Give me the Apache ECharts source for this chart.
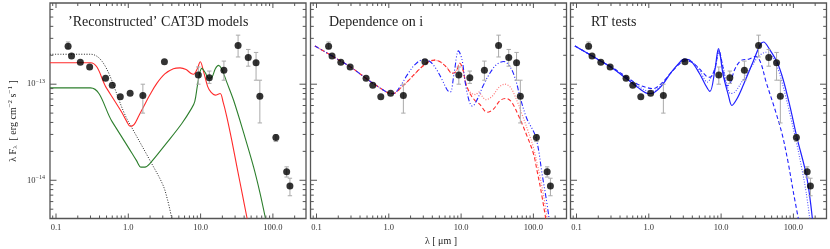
<!DOCTYPE html>
<html><head><meta charset="utf-8">
<script src="https://cdn.jsdelivr.net/npm/echarts@6/dist/echarts.min.js"></script>
<style>html,body{margin:0;padding:0;background:#fff}#c{width:830px;height:249px}</style>
</head><body><div id="c"></div>
<script>
// ---------- data ----------
const wavelength = [0.147,0.164,0.217,0.292,0.485,0.6,0.775,1.06,1.59,3.16,9.3,13.2,21,33,45.6,58.5,66,110,155,172];
const flux = [2.49e-13,1.97e-13,1.69e-13,1.51e-13,1.15e-13,9.76e-14,7.38e-14,8.06e-14,7.63e-14,1.71e-13,1.25e-13,1.17e-13,1.40e-13,2.53e-13,1.90e-13,1.67e-13,7.5e-14,2.78e-14,1.23e-14,8.73e-15];
const fluxLo = [2.33e-13,null,null,null,null,null,null,null,5.0e-14,null,1.0e-13,1.02e-13,1.10e-13,1.92e-13,1.54e-13,1.10e-13,3.95e-14,2.53e-14,1.08e-14,6.9e-15];
const fluxHi = [2.75e-13,null,null,null,null,null,null,null,1.0e-13,null,1.51e-13,1.37e-13,1.74e-13,3.24e-13,2.30e-13,2.14e-13,1.10e-13,2.99e-14,1.38e-14,1.05e-14];

// panel 1 models
const p1Dotted = [[0.0826,2.05e-13],[0.3,2.05e-13],[1.0,4.1e-14],[2.0,1.6e-14],[3.0,9.0e-15],[3.5,6.2e-15],[4.0,4.0e-15]];
const p1Red = [[0.0826,1.67e-13],[0.3,1.67e-13],[0.5,9.1e-14],[0.8,5.2e-14],[0.95,4.1e-14],[1.06,3.65e-14],[1.2,3.8e-14],[1.4,4.7e-14],[1.62,5.8e-14],[2.0,7.8e-14],[2.48,1.02e-13],[3.2,1.28e-13],[4.2,1.45e-13],[5.2,1.48e-13],[6.3,1.42e-13],[7.3,1.3e-13],[8.0,1.27e-13],[9.0,1.45e-13],[9.9,1.71e-13],[11,1.35e-13],[12.5,9.5e-14],[14,8.2e-14],[15.9,7.7e-14],[18.6,8.0e-14],[20.5,6.5e-14],[23,4.6e-14],[27,2.6e-14],[31.8,1.38e-14],[38,7.0e-15],[44,4.0e-15]];
const p1Green = [[0.0826,9.15e-14],[0.3,9.15e-14],[0.6,4.05e-14],[1.0,2.2e-14],[1.3,1.6e-14],[1.5,1.37e-14],[1.7,1.37e-14],[2.0,1.5e-14],[3.4,2.45e-14],[5.5,3.9e-14],[7.5,5.6e-14],[8.3,6.6e-14],[9.0,9.5e-14],[9.7,1.3e-13],[10.4,1.46e-13],[11.5,1.33e-13],[13,1.15e-13],[14.5,1.2e-13],[16,1.45e-13],[17.7,1.57e-13],[19.5,1.45e-13],[23,1.05e-13],[28.6,6.8e-14],[40,3.0e-14],[54,1.38e-14],[66,7.5e-15],[79,4.0e-15]];

// panel 2 models
const p2Blue = [[0.095,2.5e-13],[0.15,2.05e-13],[0.2,1.8e-13],[0.3,1.5e-13],[0.5,1.13e-13],[0.7,9.5e-14],[1.0,8.1e-14],[1.15,8.0e-14],[1.4,9.2e-14],[1.8,1.25e-13],[2.3,1.6e-13],[3.0,1.8e-13],[3.7,1.72e-13],[4.5,1.45e-13],[5.5,1.1e-13],[6.5,8.6e-14],[7.1,8.3e-14],[8.0,1.3e-13],[9.2,2.22e-13],[10.3,1.8e-13],[11.5,1.0e-13],[13.0,6.6e-14],[14.3,5.9e-14],[16.5,6.8e-14],[20,9.5e-14],[25,1.3e-13],[31,1.6e-13],[39,1.72e-13],[48,1.5e-13],[57,1.1e-13],[65,7.5e-14],[80,4.5e-14],[108,2.8e-14],[134,1.08e-14],[150,6.5e-15],[165,4.0e-15]];
const p2RedDotted = [[0.095,2.5e-13],[0.15,2.05e-13],[0.2,1.8e-13],[0.3,1.5e-13],[0.5,1.13e-13],[0.7,9.5e-14],[1.0,8.1e-14],[1.15,8.0e-14],[1.5,9.3e-14],[2.0,1.15e-13],[2.7,1.45e-13],[3.5,1.7e-13],[4.3,1.78e-13],[5.2,1.7e-13],[6.3,1.5e-13],[7.5,1.3e-13],[8.5,1.35e-13],[9.6,1.65e-13],[10.5,1.45e-13],[11.5,1.05e-13],[12.5,8.8e-14],[14,8.0e-14],[16,7.8e-14],[17.5,8.3e-14],[19.5,7.5e-14],[22,6.9e-14],[27,7.5e-14],[33,9.2e-14],[40,1.0e-13],[48,9.3e-14],[58,7.0e-14],[70,4.8e-14],[85,3.2e-14],[100,2.2e-14],[120,1.2e-14],[138,7.0e-15],[155,4.0e-15]];
const p2RedDashed = [[0.095,2.5e-13],[0.15,2.05e-13],[0.2,1.8e-13],[0.3,1.5e-13],[0.5,1.13e-13],[0.7,9.5e-14],[1.0,8.1e-14],[1.15,8.0e-14],[1.5,9.3e-14],[2.0,1.15e-13],[2.7,1.45e-13],[3.5,1.7e-13],[4.3,1.78e-13],[5.2,1.7e-13],[6.3,1.5e-13],[7.5,1.3e-13],[8.5,1.35e-13],[9.6,1.65e-13],[10.5,1.45e-13],[11.5,1.05e-13],[12.5,8.8e-14],[13.5,7.8e-14],[15.5,6.8e-14],[18,6.2e-14],[23,5.1e-14],[28,5.5e-14],[35,6.8e-14],[42,7.1e-14],[50,6.5e-14],[63,4.6e-14],[80,3.0e-14],[100,1.9e-14],[115,1.15e-14],[127,7.9e-15],[148,4.0e-15]];

// panel 3 models
const p3Solid = [[0.095,2.5e-13],[0.15,2.05e-13],[0.2,1.8e-13],[0.3,1.5e-13],[0.5,1.13e-13],[0.7,9.3e-14],[1.0,8.0e-14],[1.15,8.1e-14],[1.5,9.6e-14],[2.0,1.3e-13],[2.6,1.65e-13],[3.1,1.82e-13],[3.8,1.75e-13],[5.0,1.3e-13],[6.0,1.0e-13],[7.0,8.4e-14],[8.2,1.4e-13],[9.2,2.35e-13],[10.7,1.24e-13],[12.6,7.7e-14],[14.1,6.0e-14],[16.5,7.0e-14],[20.3,9.8e-14],[26.5,1.58e-13],[34.6,2.55e-13],[38.5,2.75e-13],[47.5,2.26e-13],[60,1.67e-13],[72.6,1.1e-13],[90,5.8e-14],[112,2.78e-14],[153,1.08e-14],[183,4.0e-15]];
const p3Dashed = [[0.095,2.5e-13],[0.15,2.05e-13],[0.2,1.8e-13],[0.3,1.52e-13],[0.5,1.18e-13],[0.7,1.0e-13],[1.0,9.1e-14],[1.15,9.0e-14],[1.5,1.02e-13],[2.0,1.3e-13],[2.6,1.6e-13],[3.2,1.75e-13],[4.0,1.68e-13],[5.0,1.45e-13],[6.0,1.25e-13],[6.6,1.18e-13],[7.3,1.2e-13],[8.3,1.5e-13],[9.3,2.25e-13],[10.5,1.55e-13],[12,9.6e-14],[13.2,1.0e-13],[15.6,1.45e-13],[19.3,1.78e-13],[24,1.82e-13],[30,1.95e-13],[35,1.7e-13],[42,1.05e-13],[55,5.6e-14],[70,3.0e-14],[85,1.5e-14],[100,7.5e-15],[117,4.0e-15]];
const p3Dotted = [[0.095,2.5e-13],[0.15,2.05e-13],[0.2,1.8e-13],[0.3,1.5e-13],[0.5,1.14e-13],[0.7,9.6e-14],[1.0,8.5e-14],[1.15,8.5e-14],[1.5,9.8e-14],[2.0,1.3e-13],[2.6,1.62e-13],[3.2,1.78e-13],[4.0,1.7e-13],[5.0,1.4e-13],[5.8,1.15e-13],[6.4,1.05e-13],[7.0,1.12e-13],[8.2,1.45e-13],[9.3,2.1e-13],[10.5,1.6e-13],[12,1.0e-13],[13.5,8.0e-14],[15.5,8.3e-14],[20,1.1e-13],[26,1.5e-13],[33,1.95e-13],[42,2.15e-13],[52,1.9e-13],[62,1.4e-13],[75,8.5e-14],[90,4.8e-14],[110,2.5e-14],[130,1.35e-14],[150,7.5e-15],[168,4.0e-15]];

// ticks and labels
const xMajorTicks = [0.1,1,10,100];
const xTickLabels = ['0.1','1.0','10.0','100.0'];
const xMinorTicks = [0.09,0.2,0.3,0.4,0.5,0.6,0.7,0.8,0.9,2,3,4,5,6,7,8,9,20,30,40,50,60,70,80,90,200];
const yMajorTicks = [1e-14,1e-13];
const yMinorTicks = [5e-15,6e-15,7e-15,8e-15,9e-15,2e-14,3e-14,4e-14,5e-14,6e-14,7e-14,8e-14,9e-14,2e-13,3e-13,4e-13,5e-13,6e-13];
const panelTitles = ['\u2019Reconstructed\u2019 CAT3D models','Dependence on i','RT tests'];

// ---------- layout ----------
const X_MIN = 0.0826, X_MAX = 287, Y_MIN = 4e-15, Y_MAX = 7e-13;
const gridLefts = [50, 310.5, 570.5];
const GW = 256, GT = 3, GH = 215.5;
const FONT = 'Liberation Serif';
const AX = '#555';

const chart = echarts.init(document.getElementById('c'), null, {renderer:'canvas'});

function isPow(v){ const e = Math.log10(v); return Math.abs(e - Math.round(e)) < 1e-6; }

const grids = [], xAxes = [], yAxes = [], series = [];
for (let i = 0; i < 3; i++) {
  grids.push({left: gridLefts[i], top: GT, width: GW, height: GH, show: true, borderColor: AX, borderWidth: 1.3, backgroundColor: 'transparent'});
  xAxes.push({type:'log', logBase:10, gridIndex:i, min:X_MIN, max:X_MAX,
    axisLine:{show:false}, axisTick:{show:false}, splitLine:{show:false},
    axisLabel:{show:true, margin:5, fontFamily:FONT, fontSize:8.5, color:'#333',
      formatter: v => { if (!isPow(v)) return ''; const k = xMajorTicks.findIndex(t => Math.abs(Math.log10(t) - Math.log10(v)) < 1e-6); return k >= 0 ? xTickLabels[k] : ''; }}});
  yAxes.push({type:'log', logBase:10, gridIndex:i, min:Y_MIN, max:Y_MAX,
    axisLine:{show:false}, axisTick:{show:false}, splitLine:{show:false},
    axisLabel:{show: i === 0, margin:5, fontFamily:FONT, color:'#333',
      formatter: v => isPow(v) ? '{b|10}{s|\u2212' + (-Math.round(Math.log10(v))) + '}' : '',
      rich:{b:{fontFamily:FONT, fontSize:8.5, color:'#333'}, s:{fontFamily:FONT, fontSize:6, color:'#333', padding:[0,0,6,0]}}}});

  // ticks on all four sides
  const tickData = [];
  xMajorTicks.forEach(v => tickData.push([v, Y_MIN, 0, 1]));
  xMinorTicks.forEach(v => tickData.push([v, Y_MIN, 0, 0]));
  yMajorTicks.forEach(v => tickData.push([X_MIN, v, 1, 1]));
  yMinorTicks.forEach(v => tickData.push([X_MIN, v, 1, 0]));
  series.push({type:'custom', xAxisIndex:i, yAxisIndex:i, clip:false, silent:true, z:5, data:tickData,
    renderItem:(params, api) => {
      const kind = api.value(2), major = api.value(3);
      const st = {stroke: AX, lineWidth: 1};
      if (kind === 0) {
        const x = api.value(0);
        const b = api.coord([x, Y_MIN]), t = api.coord([x, Y_MAX]);
        const L = major ? 5 : 3;
        return {type:'group', children:[
          {type:'line', shape:{x1:b[0], y1:b[1], x2:b[0], y2:b[1]-L}, style:st},
          {type:'line', shape:{x1:t[0], y1:t[1], x2:t[0], y2:t[1]+L}, style:st}]};
      } else {
        const y = api.value(1);
        const l = api.coord([X_MIN, y]), r = api.coord([X_MAX, y]);
        const L = major ? 6.5 : 3.3;
        return {type:'group', children:[
          {type:'line', shape:{x1:l[0], y1:l[1], x2:l[0]+L, y2:l[1]}, style:st},
          {type:'line', shape:{x1:r[0], y1:r[1], x2:r[0]-L, y2:r[1]}, style:st}]};
      }
    }});

  // error bars
  const errData = [];
  wavelength.forEach((w, k) => { if (fluxLo[k] != null) errData.push([w, fluxLo[k], fluxHi[k]]); });
  series.push({type:'custom', xAxisIndex:i, yAxisIndex:i, silent:true, z:6, data:errData,
    encode:{x:0, y:[1,2]},
    renderItem:(params, api) => {
      const x = api.value(0);
      const a = api.coord([x, api.value(1)]), b = api.coord([x, api.value(2)]);
      const st = {stroke:'#aaa', lineWidth:1};
      const cw = 2.2;
      return {type:'group', children:[
        {type:'line', shape:{x1:a[0], y1:a[1], x2:b[0], y2:b[1]}, style:st},
        {type:'line', shape:{x1:a[0]-cw, y1:a[1], x2:a[0]+cw, y2:a[1]}, style:st},
        {type:'line', shape:{x1:b[0]-cw, y1:b[1], x2:b[0]+cw, y2:b[1]}, style:st}]};
    }});
}

function line(i, data, color, type, width, z) {
  return {type:'line', xAxisIndex:i, yAxisIndex:i, data:data, showSymbol:false, symbol:'none', smooth:0.35,
    silent:true, z:z || 3, lineStyle:{color:color, width:width || 1.1, type:type}};
}
series.push(line(0, p1Dotted, '#222', [1,1.6], 1));
series.push(line(0, p1Red, '#ff2a2a', 'solid', 1.1));
series.push(line(0, p1Green, '#2d7f2d', 'solid', 1.1));
series.push(line(1, p2RedDotted, '#ff7a7a', [1,1.6], 1.2));
series.push(line(1, p2RedDashed, '#ff2a2a', [4,2.5], 1.1));
series.push(line(1, p2Blue, '#2020ff', [5,2,1,2,1,2,1,2], 1.1, 4));
series.push(line(2, p3Dotted, '#5050ff', [1,1.6], 1.1));
series.push(line(2, p3Dashed, '#2020ff', [4,2.5], 1.1));
series.push(line(2, p3Solid, '#2020ff', 'solid', 1.2, 4));

for (let i = 0; i < 3; i++) {
  series.push({type:'scatter', xAxisIndex:i, yAxisIndex:i, silent:true, z:8,
    data: wavelength.map((w, k) => [w, flux[k]]), symbol:'circle', symbolSize:7,
    itemStyle:{color:'#000'}});
}

const titlePos = [[68, 24], [329, 24], [591, 24]];
const graphic = panelTitles.map((t, i) => ({type:'text', left: titlePos[i][0], top: titlePos[i][1] - 9, z:20,
  style:{text:t, font:'14px "' + FONT + '"', fill:'#222'}}));
graphic.push({type:'text', x:441, y:241, z:20,
  style:{text:'\u03bb [ \u03bcm ]', font:'10px "' + FONT + '"', fill:'#222', align:'center', verticalAlign:'middle'}});
graphic.push({type:'text', x:13, y:121, rotation:Math.PI/2, z:20,
  style:{text:'\u03bb F{sub|\u03bb}  [ erg cm{sup|\u22122} s{sup|\u22121} ]', align:'center', verticalAlign:'middle',
    font:'10px "' + FONT + '"', fill:'#222',
    rich:{sub:{fontSize:7, fontFamily:FONT, fill:'#222', padding:[4,0,0,0]}, sup:{fontSize:7, fontFamily:FONT, fill:'#222', padding:[0,0,6,0]}}}});

chart.setOption({animation:false, backgroundColor:'#fff', grid:grids, xAxis:xAxes, yAxis:yAxes, series:series, graphic:graphic});
</script></body></html>
